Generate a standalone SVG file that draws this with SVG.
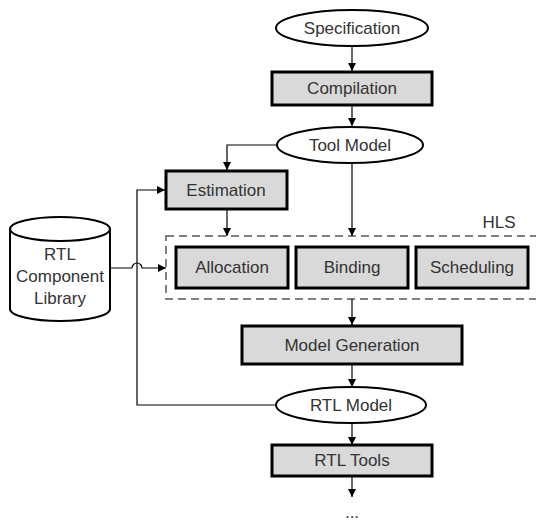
<svg xmlns="http://www.w3.org/2000/svg" width="536" height="524" viewBox="0 0 536 524">
<style>
text{font-family:"Liberation Sans",Arial,sans-serif;font-size:17px;fill:#333;text-anchor:middle}
.box{fill:#d9d9d9;stroke:#000;stroke-width:3}
.ell{fill:#fff;stroke:#000;stroke-width:2}
.c{fill:none;stroke:#000;stroke-width:1.2}
</style>
<defs>
<marker id="ah" markerWidth="10" markerHeight="10" refX="9" refY="5" orient="auto" markerUnits="userSpaceOnUse">
<path d="M1,1 L9,5 L1,9 Z" fill="#000"/>
</marker>
</defs>
<rect width="536" height="524" fill="#fff"/>
<g id="hls">
<rect x="166" y="236" width="375" height="63" fill="none" stroke="#555" stroke-width="1.5" stroke-dasharray="8 5"/>
<text x="499" y="228">HLS</text>
</g>
<g id="connectors">
<line class="c" x1="352" y1="46" x2="352" y2="71" marker-end="url(#ah)"/>
<line class="c" x1="352" y1="105" x2="352" y2="126" marker-end="url(#ah)"/>
<polyline class="c" points="277,145 227,145 227,170" marker-end="url(#ah)"/>
<line class="c" x1="352" y1="163" x2="352" y2="236" marker-end="url(#ah)"/>
<line class="c" x1="227" y1="210" x2="227" y2="236" marker-end="url(#ah)"/>
<polyline class="c" points="276,405 137,405 137,190 165,190" marker-end="url(#ah)"/>
<path class="c" d="M111,268 L132,268 A5,5 0 0 1 142,268 L166,268" marker-end="url(#ah)"/>
<line class="c" x1="352" y1="299" x2="352" y2="325" marker-end="url(#ah)"/>
<line class="c" x1="352" y1="365" x2="352" y2="387" marker-end="url(#ah)"/>
<line class="c" x1="352" y1="424" x2="352" y2="445" marker-end="url(#ah)"/>
<line class="c" x1="352" y1="476" x2="352" y2="497" marker-end="url(#ah)"/>
</g>
<g id="specification">
<ellipse class="ell" cx="352" cy="28" rx="76" ry="18"/>
<text x="352" y="34">Specification</text>
</g>
<g id="compilation">
<rect class="box" x="272" y="72" width="160" height="33"/>
<text x="352" y="94">Compilation</text>
</g>
<g id="toolmodel">
<ellipse class="ell" cx="350" cy="145" rx="73" ry="18"/>
<text x="350" y="151">Tool Model</text>
</g>
<g id="estimation">
<rect class="box" x="166" y="171" width="121" height="38"/>
<text x="226" y="196">Estimation</text>
</g>
<g id="allocation">
<rect class="box" x="176" y="247" width="112" height="41"/>
<text x="232" y="273">Allocation</text>
</g>
<g id="binding">
<rect class="box" x="296" y="247" width="112" height="41"/>
<text x="352" y="273">Binding</text>
</g>
<g id="scheduling">
<rect class="box" x="416" y="247" width="112" height="41"/>
<text x="472" y="273">Scheduling</text>
</g>
<g id="library">
<path d="M10,229 L10,309 A50,12 0 0 0 110,309 L110,229" fill="#fff" stroke="#000" stroke-width="2"/>
<ellipse cx="60" cy="229" rx="50" ry="12" fill="#fff" stroke="#000" stroke-width="2"/>
<text x="60" y="260">RTL</text>
<text x="60" y="282">Component</text>
<text x="60" y="304">Library</text>
</g>
<g id="modelgen">
<rect class="box" x="242" y="326" width="220" height="38"/>
<text x="352" y="351">Model Generation</text>
</g>
<g id="rtlmodel">
<ellipse class="ell" cx="351" cy="405" rx="75" ry="18"/>
<text x="351" y="411">RTL Model</text>
</g>
<g id="rtltools">
<rect class="box" x="272" y="445" width="160" height="31"/>
<text x="352" y="466">RTL Tools</text>
</g>
<g id="more">
<text x="352" y="518">...</text>
</g>
</svg>
